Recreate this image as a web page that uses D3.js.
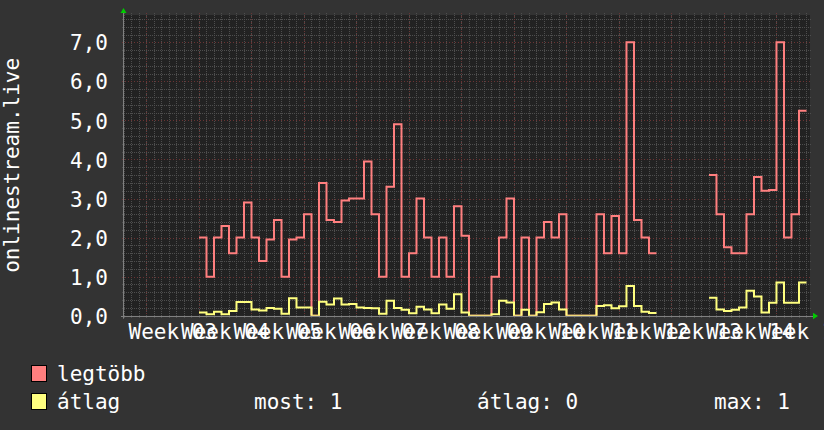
<!DOCTYPE html>
<html><head><meta charset="utf-8">
<script src="https://cdn.jsdelivr.net/npm/d3@7"></script>
<style>
html,body{margin:0;padding:0;background:#333333;}
svg{display:block;}
text{font-family:"DejaVu Sans Mono",monospace;fill:#ffffff;}
</style></head>
<body>
<script>
// ---- data (one value per day, starting at startDay) ----
const startDay = "2025-01-10";
const legtobb = [null,null,null,null,null,null,null,null,null,null,
  2.0,1.0,2.0,2.3,1.6,2.0,2.9,2.0,1.4,1.95,
  2.45,1.0,1.95,2.0,2.6,0,3.4,2.45,2.4,2.95,
  3.0,3.0,3.95,2.6,1.0,3.3,4.9,1.0,1.6,3.0,
  2.0,1.0,2.0,1.0,2.8,2.05,0,0,0,1.0,
  2.0,3.0,0,2.0,0,2.0,2.4,2.0,2.6,0,
  0,0,0,2.6,1.6,2.55,1.6,7.0,2.45,2.0,
  1.6,null,null,null,null,null,null,null,3.6,2.6,
  1.75,1.6,1.6,2.6,3.55,3.2,3.22,7.0,2.0,2.6,
  5.25];
const atlag = [null,null,null,null,null,null,null,null,null,null,
  0.08,0.04,0.1,0.04,0.12,0.35,0.35,0.16,0.13,0.2,
  0.18,0.05,0.45,0.21,0.21,0,0.36,0.29,0.44,0.29,
  0.3,0.21,0.2,0.19,0.05,0.38,0.2,0.15,0.06,0.23,
  0.16,0.06,0.29,0.18,0.55,0.08,0,0,0,0.04,
  0.38,0.34,0,0.15,0,0.09,0.3,0.34,0.16,0,
  0,0,0,0.25,0.27,0.19,0.24,0.76,0.25,0.1,
  0.07,null,null,null,null,null,null,null,0.46,0.16,
  0.12,0.15,0.21,0.64,0.49,0.08,0.33,0.85,0.33,0.33,
  0.85];
const yTicks = [0,1,2,3,4,5,6,7];
const seriesNames = ["legtöbb","átlag"];
const seriesColors = ["#ff7f7f","#ffff7f"];
const statLabels = ["most: 1","átlag: 0","max: 1"];
const yTitle = "onlinestream.live";

// ---- layout ----
const W = 824, H = 430;
const L = 124, R = 810, T = 15, B = 315.7;
const svg = d3.select("body").append("svg").attr("width",W).attr("height",H);
svg.append("rect").attr("width",W).attr("height",H).attr("fill","#333333");

const t0 = new Date(startDay+"T00:00:00Z");
const dayMs = 86400000;
const t1 = new Date(t0.getTime() + 91.47*dayMs);
const x = d3.scaleUtc().domain([t0,t1]).range([L,R]);
const y = d3.scaleLinear().domain([0,7.7]).range([B,T]);

svg.append("defs").append("clipPath").attr("id","plotclip")
  .append("rect").attr("x",L).attr("y",T).attr("width",R-L).attr("height",B-T);

svg.append("rect").attr("x",L).attr("y",T).attr("width",R-L).attr("height",B-T).attr("fill","#222222");

const grid = svg.append("g");
const minorCol = "#4e4e4e", majorCol = "#6a3434";
// minor horizontal
const minorY = d3.range(1,39).map(i=>i*0.2).filter(v=>Math.abs(v-Math.round(v))>1e-6);
grid.selectAll(".hm").data(minorY).join("line")
  .attr("x1",L-2).attr("x2",R+2).attr("y1",d=>Math.round(y(d))+0.5).attr("y2",d=>Math.round(y(d))+0.5)
  .attr("stroke",minorCol).attr("stroke-dasharray","1,1");
// minor vertical (days)
const days = d3.utcDay.range(t0,t1);
grid.selectAll(".vm").data(days).join("line")
  .attr("x1",d=>Math.round(x(d))+0.5).attr("x2",d=>Math.round(x(d))+0.5).attr("y1",T-2).attr("y2",B+3)
  .attr("stroke",minorCol).attr("stroke-dasharray","1,1");
// major horizontal
grid.selectAll(".hM").data(yTicks.filter(v=>v>0)).join("line")
  .attr("x1",L-2).attr("x2",R+2).attr("y1",d=>Math.round(y(d))+0.5).attr("y2",d=>Math.round(y(d))+0.5)
  .attr("stroke",majorCol).attr("stroke-dasharray","1,2");
// major vertical (weeks)
const weeks = d3.utcMonday.range(t0,t1);
grid.selectAll(".vM").data(weeks).join("line")
  .attr("x1",d=>Math.round(x(d))+0.5).attr("x2",d=>Math.round(x(d))+0.5).attr("y1",T-2).attr("y2",B+3)
  .attr("stroke",majorCol).attr("stroke-dasharray","1,2");

// data lines (step per day)
function stepPoints(arr){
  const pts=[];
  arr.forEach((v,i)=>{
    const a=new Date(t0.getTime()+i*dayMs), b=new Date(t0.getTime()+(i+1)*dayMs);
    if(v==null){pts.push(null);}
    else{pts.push({t:a,v});pts.push({t:b,v});}
  });
  return pts;
}
const line = d3.line().defined(d=>d!=null).x(d=>x(d.t)).y(d=>y(d.v));
const lines = svg.append("g").attr("clip-path","url(#plotclip)");
[legtobb,atlag].forEach((arr,k)=>{
  lines.append("path").attr("d",line(stepPoints(arr))).attr("fill","none")
    .attr("stroke",seriesColors[k]).attr("stroke-width",2).attr("stroke-linejoin","miter");
});

// axes lines
svg.append("line").attr("x1",L-0.5).attr("x2",L-0.5).attr("y1",T-3).attr("y2",B+3).attr("stroke","#808080");
svg.append("line").attr("x1",L-3).attr("x2",R+3).attr("y1",Math.round(B)+0.5).attr("y2",Math.round(B)+0.5).attr("stroke","#808080");
// arrows
svg.append("path").attr("d",`M${L-3.5},${13} L${L+2.5},${13} L${L-0.5},${8} Z`).attr("fill","#00cc00");
svg.append("path").attr("d",`M${R+3},${B-3} L${R+3},${B+3.5} L${R+8},${B+0.3} Z`).attr("fill","#00cc00");

// y axis labels
const fmt = d3.formatLocale({decimal:",",thousands:".",grouping:[3],currency:["",""]}).format(".1f");
const yAxis = d3.axisLeft(y).tickValues(yTicks).tickFormat(fmt).tickSize(0).tickPadding(16);
const ya = svg.append("g").attr("transform",`translate(${L},0)`).call(yAxis);
ya.select(".domain").remove();
ya.selectAll("text").attr("font-size",21).attr("font-family","DejaVu Sans Mono").attr("fill","#fff").attr("dy","0.36em");

// x axis labels: centered mid-week
const labelFmt = d3.utcFormat("Week %V");
const mids = weeks.map(w=>d3.utcHour.offset(w,84));
svg.append("g").selectAll("text").data(mids).join("text")
  .attr("x",d=>x(d)).attr("y",338.5).attr("text-anchor","middle").attr("font-size",21)
  .text(d=>labelFmt(d));

// y title
svg.append("text").attr("transform",`translate(19,${(T+B)/2}) rotate(-90)`).attr("text-anchor","middle")
  .attr("font-size",21).text(yTitle);

// legend
const rows=[381,409];
seriesNames.forEach((n,k)=>{
  svg.append("rect").attr("x",31.5).attr("y",rows[k]-15.5).attr("width",15).attr("height",16)
    .attr("fill",seriesColors[k]).attr("stroke","#000").attr("stroke-width",1);
  svg.append("text").attr("x",57).attr("y",rows[k]).attr("font-size",21).text(n);
});
const statX=[254,477,714];
statLabels.forEach((s,i)=>{
  svg.append("text").attr("x",statX[i]).attr("y",rows[1]).attr("font-size",21).text(s);
});
</script>
</body></html>
